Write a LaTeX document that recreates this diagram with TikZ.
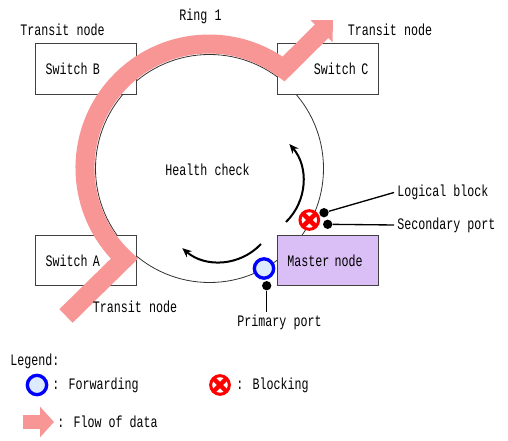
\documentclass[tikz,border=0pt]{standalone}
\usepackage{fontspec}
\newfontfamily\ringfont[FakeStretch=0.73]{Liberation Mono}
\usetikzlibrary{arrows.meta}

\definecolor{flowpink}{RGB}{248,150,150}
\definecolor{masterfill}{RGB}{218,190,246}
\definecolor{fwdfill}{RGB}{220,235,255}

\begin{document}
\begin{tikzpicture}[
    x=0.75pt, y=0.75pt,
    font=\ringfont\fontsize{12}{14}\selectfont,
    switch/.style={draw=black!75, fill=white, line width=0.75pt, minimum width=75.75pt,
      minimum height=38pt, inner sep=0pt, text width=60.75pt},
    port/.style={circle, fill=black, inner sep=0pt, minimum size=7pt},
    forwarding/.style={circle, draw=blue, fill=fwdfill, line width=2.5pt, inner sep=0pt, minimum size=14.5pt},
    blocking/.style={circle, draw=red, fill=white, line width=2.25pt, inner sep=0pt, minimum size=14pt,
      path picture={
        \draw[red, line width=3.4pt]
          (path picture bounding box.north west) -- (path picture bounding box.south east)
          (path picture bounding box.north east) -- (path picture bounding box.south west);
      }},
    flow/.style={line width=14.25pt, flowpink, line join=miter},
    check/.style={line width=1.5pt, -{Stealth[length=7pt, width=6pt]}},
    callout/.style={line width=1pt},
    tag/.style={inner sep=2.25pt}
  ]
  \useasboundingbox (0,0) rectangle (508,-441);

  % --- Ring ---
  \coordinate (ctr) at (209.5,-168.5);
  \draw[black!80, line width=0.6pt] (ctr) circle[radius=114];

  % --- Switches ---
  \node[switch, align=left] (swB) at (86,-69) {Switch B};
  \node[switch, align=right] (swC) at (327.8,-69) {Switch C};
  \node[switch, align=left] (swA) at (86,-260.5) {Switch A};
  \node[switch, align=left, fill=masterfill] (master) at (327.8,-260.5) {Master node};

  % --- Flow of data ---
  \draw[flow, -{Triangle[width=22.5pt, length=12pt]}]
    (66,-316) -- (124.4,-258.7) arc[start angle=227, end angle=53, radius=124] -- (333,-20);

  % --- Health check ---
  \node (hc) at (207.5,-170) {Health check};
  \draw[check] (286,-222) arc[start angle=-45.7, end angle=40.7, radius=57];
  \draw[check] (261,-244) arc[start angle=-43.2, end angle=-130.7, radius=57];

  % --- Ports ---
  \node[blocking] (sec) at (309.3,-220) {};
  \node[forwarding] (pri) at (264,-268.5) {};
  \node[port] (blkdot) at (324,-212.7) {};
  \node[port] (secdot) at (327.7,-224.3) {};
  \node[port] (pridot) at (266.7,-285.7) {};

  \node[tag, anchor=west] (lblk) at (394,-192.5) {Logical block};
  \node[tag, anchor=west] (lsec) at (394,-225) {Secondary port};
  \node[tag] (lpri) at (279.5,-322.5) {Primary port};
  \draw[callout] (blkdot) -- (lblk.west);
  \draw[callout] (secdot) -- (lsec.west);
  \draw[callout] (pridot) -- (pridot |- lpri.north);

  % --- Labels ---
  \node (ring1) at (200.5,-16) {Ring 1};
  \node (transB) at (62.5,-30) {Transit node};
  \node (transC) at (390,-30) {Transit node};
  \node (transA) at (135,-307) {Transit node};

  % --- Legend ---
  \node[tag, anchor=west] (legend) at (7,-361.5) {Legend:};
  \node[forwarding] (fwdkey) at (37,-385) {};
  \node[tag, anchor=west] (fwdtxt) at (49,-385) {: Forwarding};
  \node[blocking] (blkkey) at (220,-385) {};
  \node[tag, anchor=west] (blktxt) at (233,-385) {: Blocking};
  \coordinate (flowkey) at (23,-422);
  \draw[flow, line width=10.5pt, -{Triangle[width=22.5pt, length=10.5pt]}] (flowkey) -- ++(31,0);
  \node[tag, anchor=west] (flowtxt) at (54,-421.5) {: Flow of data};

\end{tikzpicture}
\end{document}
